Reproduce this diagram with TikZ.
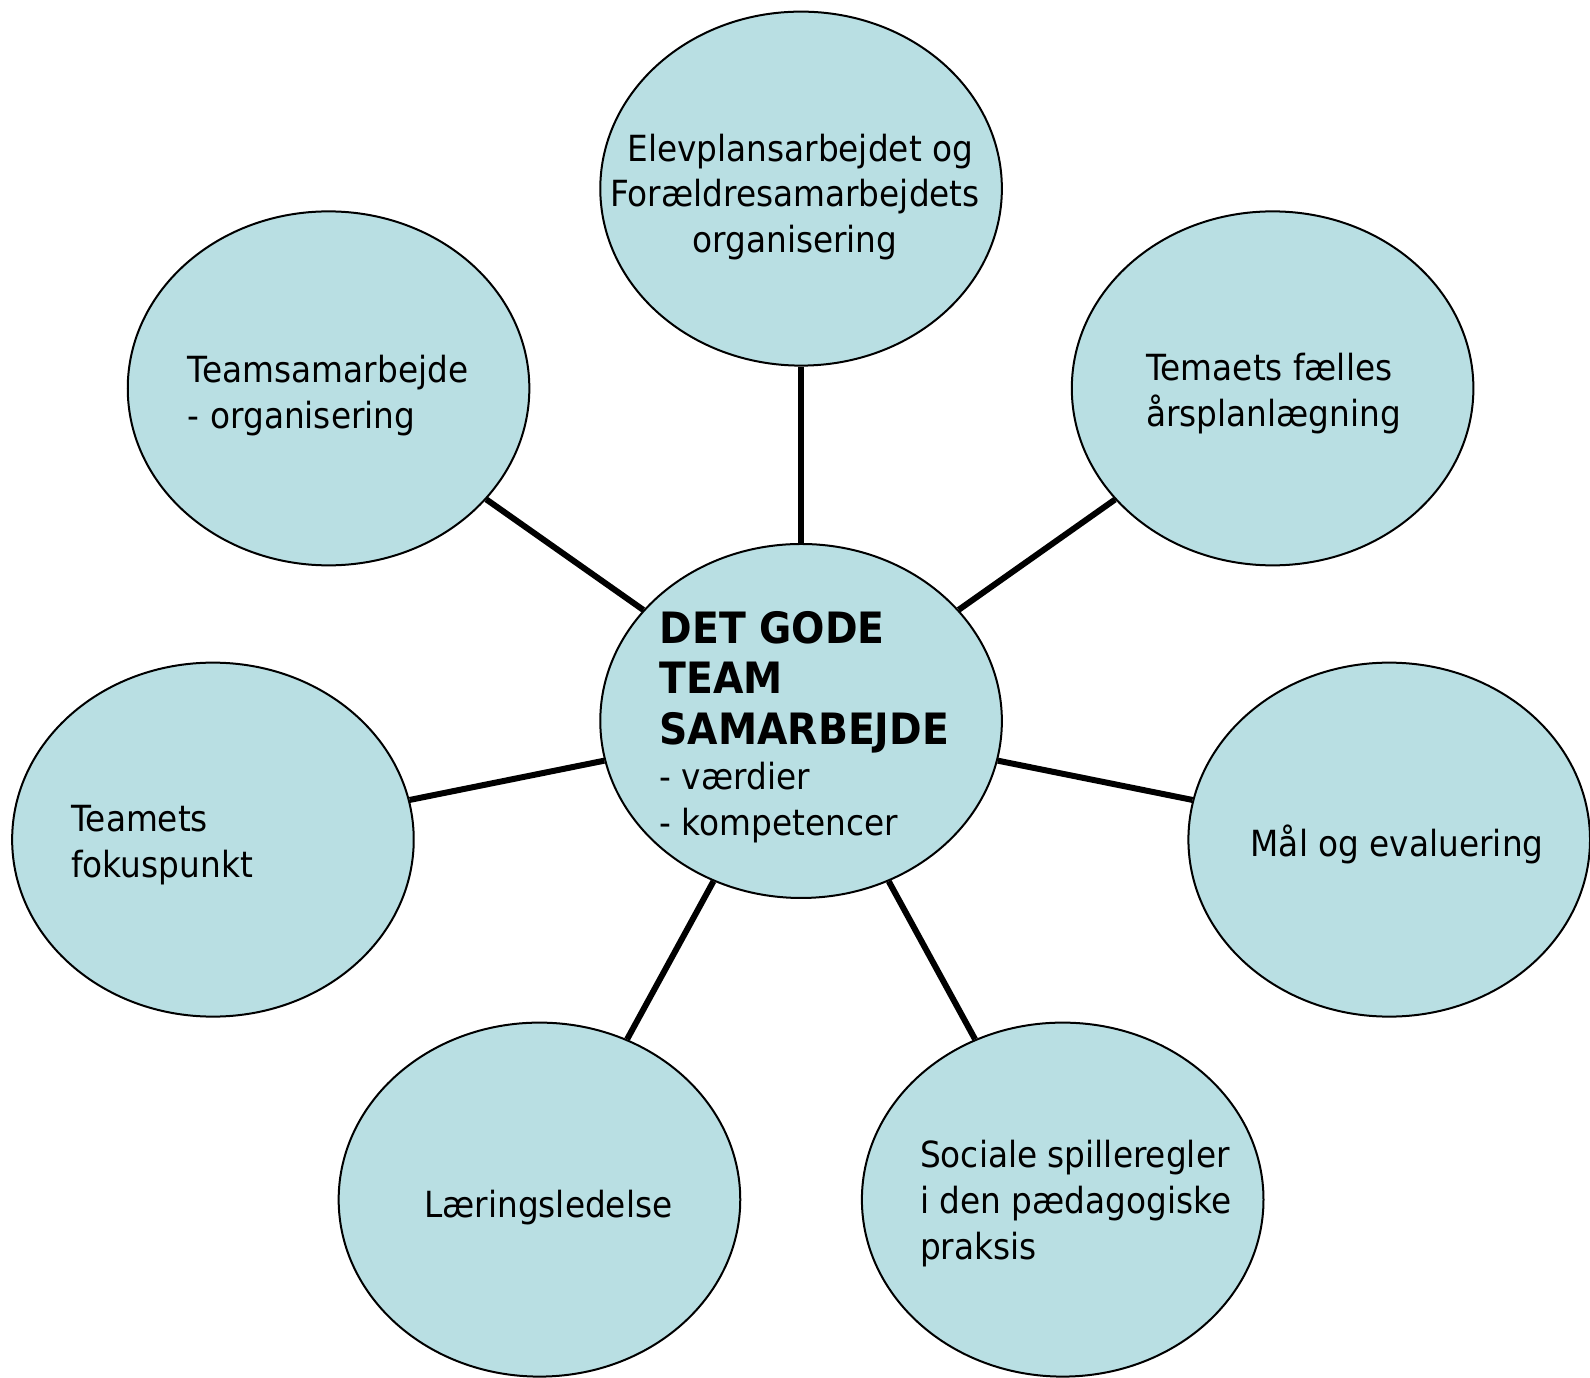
\documentclass[tikz,border=0pt]{standalone}
\usepackage{fontspec}
\setmainfont{DejaVu Sans}[FakeStretch=0.91]
\usetikzlibrary{shapes.geometric}
\definecolor{bubble}{RGB}{185,223,227}
\tikzset{
  bubble/.style={ellipse,draw=black,line width=1pt,fill=bubble,minimum width=200.8pt,minimum height=177pt,inner sep=0pt},
  txt/.style={inner sep=0pt,align=left,font=\fontsize{18}{22.8}\selectfont},
  link/.style={line width=3pt,draw=black}
}
\newcommand\hdtext[1]{{\bfseries\fontsize{21.6}{22.8}\selectfont #1}}
\begin{document}
\begin{tikzpicture}[x=0.50702pt,y=-0.50702pt]
\useasboundingbox (0,0) rectangle (1568,1358);
\node[bubble] (c)  at (790,711) {};
\node[bubble] (t)  at (790,186) {};
\node[bubble] (tl) at (324,383) {};
\node[bubble] (tr) at (1255,383) {};
\node[bubble] (l)  at (210,828) {};
\node[bubble] (r)  at (1370,828) {};
\node[bubble] (bl) at (532,1183) {};
\node[bubble] (br) at (1048,1183) {};
\foreach \n in {t,tl,tr,l,r,bl,br} \draw[link] (c) -- (\n);
\node[txt,align=center] (tt) at (784,194) {\ Elevplansarbejdet og\\Forældresamarbejdets\\organisering};
\node[txt,anchor=west] (tlt) at (185,390) {Teamsamarbejde\\- organisering};
\node[txt,anchor=west] (trt) at (1130,388) {Temaets fælles\\årsplanlægning};
\node[txt,anchor=west] (lt) at (70,833.5) {Teamets\\fokuspunkt};
\node[txt,anchor=west] (rt) at (1233,833) {Mål og evaluering};
\node[txt,anchor=west] (blt) at (418,1191) {Læringsledelse};
\node[txt,anchor=west] (brt) at (907,1187) {Sociale spilleregler\\i den pædagogiske\\praksis};
\node[txt,anchor=west] (ct) at (650,717) {\hdtext{DET GODE}\\[2.5pt]\hdtext{TEAM}\\[2.5pt]\hdtext{SAMARBEJDE}\\- værdier\\- kompetencer};
\end{tikzpicture}
\end{document}
